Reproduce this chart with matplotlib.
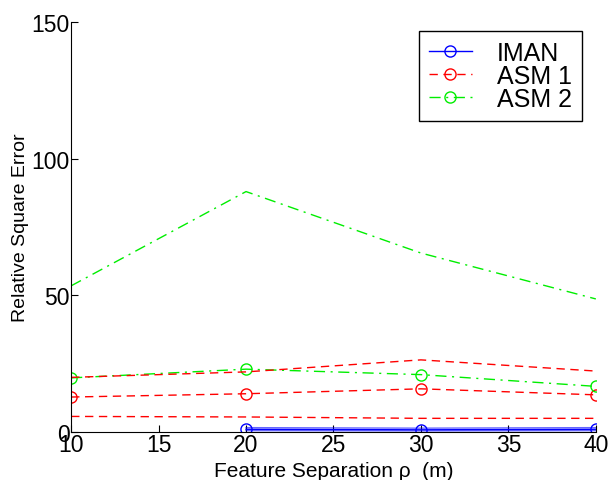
import matplotlib
matplotlib.use("Agg")
import matplotlib.pyplot as plt

plt.rcParams['font.family'] = ['Liberation Sans', 'DejaVu Sans']

# feature separation (m)
x_all = [10, 20, 30, 40]
x_iman = [20, 30, 40]

# IMAN: mean and bounds
iman_mean = [1.0, 0.8, 1.0]
iman_hi = [1.6, 1.4, 1.6]
iman_lo = [0.5, 0.4, 0.5]

# ASM 1: mean and bounds
asm1_mean = [12.8, 14.0, 15.8, 13.6]
asm1_hi = [20.0, 22.0, 26.4, 22.3]
asm1_lo = [5.7, 5.5, 5.0, 5.0]

# ASM 2: mean and upper bound
asm2_mean = [19.8, 23.0, 21.0, 16.7]
asm2_hi = [53.5, 88.0, 65.5, 48.7]

fig = plt.figure(figsize=(6.08, 4.81), dpi=100)
ax = fig.add_axes([0.117, 0.0998, 0.863, 0.852])

ms = 8
ax.plot(x_iman, iman_mean, '-o', color='blue', lw=1, ms=ms, mfc='none', label='IMAN')
ax.plot(x_all, asm1_mean, '--o', color='red', lw=1, ms=ms, mfc='none', label='ASM 1', dashes=(6, 4))
ax.plot(x_all, asm2_mean, '-.o', color='#00ee00', lw=1, ms=ms, mfc='none', label='ASM 2', dashes=(8, 4, 1.5, 4))

# bounds
ax.plot(x_iman, iman_hi, '-', color='blue', lw=1, alpha=0.6)
ax.plot(x_iman, iman_lo, '-', color='blue', lw=1, alpha=0.6)
ax.plot(x_all, asm1_hi, '--', color='red', lw=1, dashes=(6, 4))
ax.plot(x_all, asm1_lo, '--', color='red', lw=1, dashes=(6, 4))
ax.plot(x_all, asm2_hi, '-.', color='#00ee00', lw=1, dashes=(8, 4, 1.5, 4))

ax.set_xlim(10, 40)
ax.set_ylim(0, 150)
ax.set_xticks([10, 15, 20, 25, 30, 35, 40])
ax.set_yticks([0, 50, 100, 150])
ax.tick_params(direction='in', labelsize=16.5, length=5, pad=1)
for s in ['top', 'right']:
    ax.spines[s].set_visible(False)
ax.set_xlabel('Feature Separation \u03c1  (m)', fontsize=15, labelpad=3)
ax.set_ylabel('Relative Square Error', fontsize=14, labelpad=2)

leg = ax.legend(loc='upper right', bbox_to_anchor=(0.973, 0.978), fontsize=18,
                fancybox=False, edgecolor='black', framealpha=1,
                handlelength=1.7, borderpad=0.4, labelspacing=-0.05, handletextpad=1.0,
                borderaxespad=0)
leg.get_frame().set_linewidth(1)

fig.savefig('out.png', dpi=100)
